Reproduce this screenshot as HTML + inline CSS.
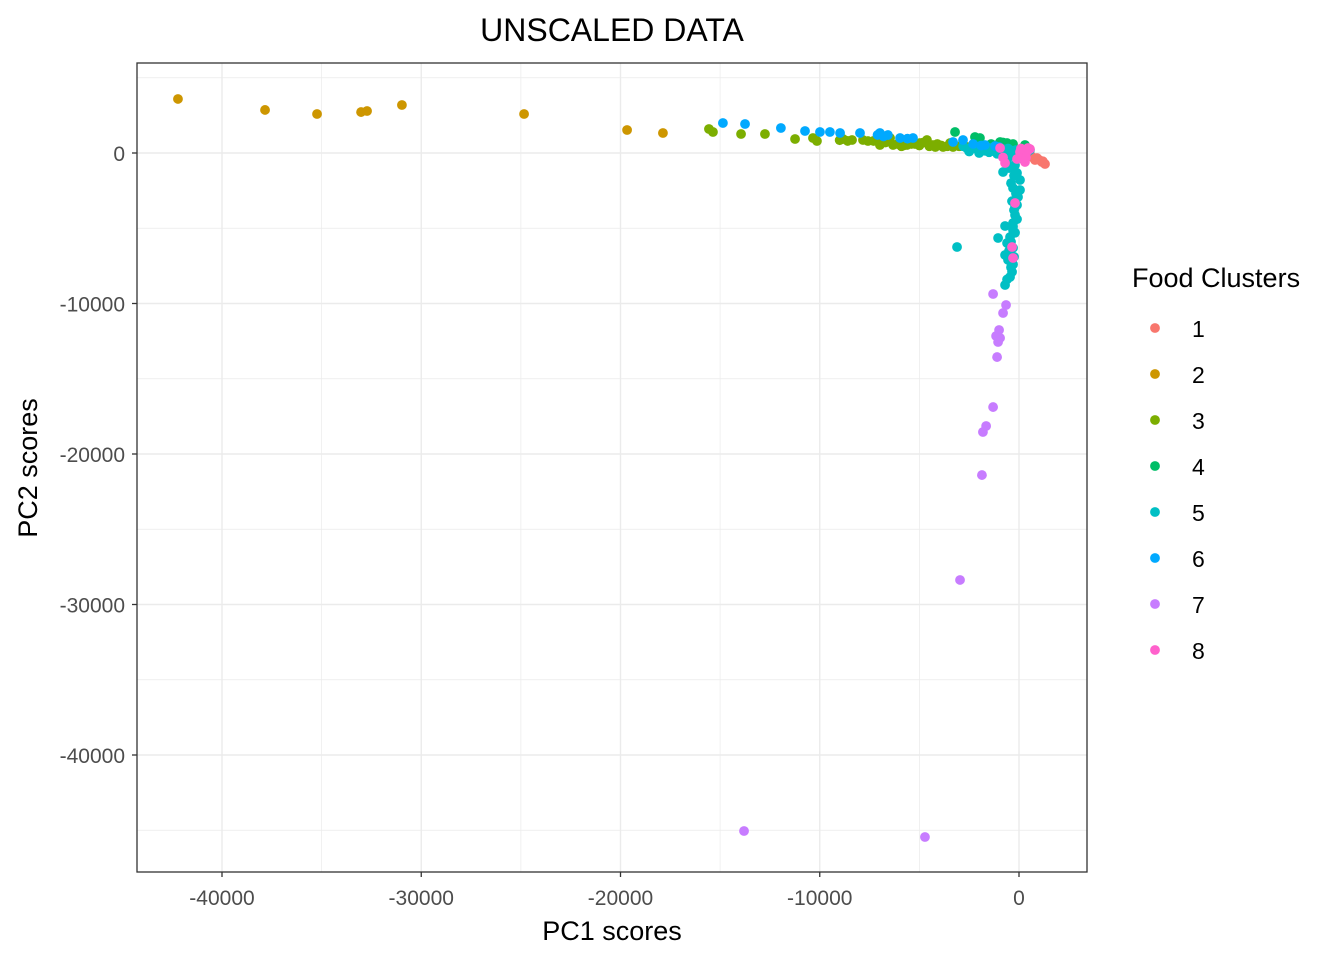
<!DOCTYPE html>
<html><head><meta charset="utf-8"><style>
body{margin:0;background:#fff;font-family:"Liberation Sans",Arial,sans-serif}
</style></head><body>
<svg id="chart" width="1344" height="960" xmlns="http://www.w3.org/2000/svg" font-family="Liberation Sans, Arial, sans-serif"></svg>
<script>
const clusterNames=["1","2","3","4","5","6","7","8"];
const clusterColors=["#F8766D","#CD9600","#7CAE00","#00BE67","#00BFC4","#00A9FF","#C77CFF","#FF61CC"];
const xTicks=[-40000,-30000,-20000,-10000,0];
const yTicks=[0,-10000,-20000,-30000,-40000];
const c1x=[552,903,1154,1305,803,351,700,1000,1200,600];
const c1y=[-133,-332,-598,-731,-465,66,-300,-450,-550,-200];
const c2x=[-42210,-37840,-35230,-33020,-32720,-30970,-24840,-19670,-17870];
const c2y=[3590,2860,2590,2720,2790,3190,2590,1530,1330];
const c3x=[-15560,-15360,-13950,-12750,-11240,-10340,-10140,-8830,-8380,-7830,-7580,-6980,-6980,-6470,-6320,-5620,-4970,-4620,-4320,-3810,-3310,-2810,-5970,-5220,-3460,-7300,-6700,-6100,-5800,-5400,-5000,-4800,-4500,-4100,-3900,-3600,-3000,-2600,-2300,-8600,-9000,-4200,-5900];
const c3y=[1595,1396,1263,1263,930,997,797,930,864,864,797,997,532,997,532,532,665,864,532,399,399,532,731,598,665,800,700,600,500,600,500,700,450,600,500,450,450,400,350,800,850,400,450];
const c4x=[-3210,-2210,-950,-600,-300,-1960,300,-2000,-1400,-800,-1200,-400];
const c4y=[1395,1063,731,665,598,997,532,900,600,700,500,400];
const c5x=[-1960,-1460,-1100,-600,-800,-100,50,-300,-50,-200,-200,-300,-700,-300,-1050,-450,-600,-700,-350,-450,-700,-3110,250,-450,50,550,-2460,-200,50,-100,-1600,-900,-300,
-2800,-2600,-2300,-2100,-1800,-1700,-1500,-1300,-1200,-1000,-850,-750,-650,-550,-400,-250,-150,0,150,300,400,
-2500,-2000,-1500,-1100,-900,-600,-300,-100,200,
-500,-250,-400,-150,-350,-250,-100,-300,-200,-400,-300,-500,-250,-550,-400,-350,-600,-300,-500,-450];
const c5y=[399,332,200,-465,-1263,-1329,-1794,-2326,-2924,-3588,-4120,-4652,-4851,-5117,-5648,-5582,-5981,-6778,-7243,-8240,-8771,-6246,-266,200,0,200,266,-797,-2459,-3455,200,100,-1000,
450,300,400,250,350,150,300,250,100,300,150,250,100,300,150,100,200,100,0,-100,50,
100,0,50,-50,0,-100,-200,-300,-400,
-1000,-1500,-2000,-2700,-3200,-3800,-4400,-4900,-5300,-5900,-6300,-6500,-6900,-7100,-7600,-7900,-8400,-7400,-7000,-6100];
const c6x=[-14860,-13750,-11950,-10740,-9990,-9490,-8980,-7980,-6980,-6580,-5970,-5320,-3310,-2810,-1200,-1710,-7100,-6800,-5600,-2300,-1900,-1000];
const c6y=[1994,1927,1661,1462,1395,1395,1329,1329,1329,1196,997,997,731,864,465,532,1200,1100,950,600,500,400];
const c7x=[-1300,-650,-800,-1000,-1150,-950,-1050,-1100,-1300,-1650,-1810,-1860,-2960,-13800,-4720];
const c7y=[-9370,-10100,-10630,-11760,-12160,-12290,-12560,-13560,-16880,-18140,-18540,-21400,-28370,-45050,-45450];
const c8x=[50,300,-700,-200,-350,-300,550,450,-950,200,400,-100,-800,100,350];
const c8y=[66,-598,-665,-3323,-6246,-6977,266,332,332,-200,100,-400,-300,300,-300];
const seriesX=[c1x,c2x,c3x,c4x,c5x,c6x,c7x,c8x];
const seriesY=[c1y,c2y,c3y,c4y,c5y,c6y,c7y,c8y];

const NS="http://www.w3.org/2000/svg";
const svg=document.getElementById('chart');
const L=137,R=1087,T=63,B=872;
const sx=v=>1019+v*0.019925;
const sy=v=>153-v*0.01505;
function mk(tag,attrs,parent){const e=document.createElementNS(NS,tag);for(const k in attrs)e.setAttribute(k,attrs[k]);(parent||svg).appendChild(e);return e;}
const grid=mk('g',{});


for(let v=-45000;v<=0;v+=5000){const x=sx(v);if(x<L||x>R)continue;const ln=mk('line',{x1:x,x2:x,y1:T,y2:B,stroke:'#ebebeb','stroke-width':(v%10000===0)?1.4:0.7},grid);

}
for(let v=5000;v>=-45000;v-=5000){const y=sy(v);if(y<T||y>B)continue;const ln=mk('line',{x1:L,x2:R,y1:y,y2:y,stroke:'#ebebeb','stroke-width':(v%10000===0)?1.4:0.7},grid);

}
const pts=mk('g',{});


seriesX.forEach((xs,i)=>{xs.forEach((xv,j)=>{const yv=seriesY[i][j];if(yv===undefined)return;const c=mk('circle',{cx:sx(xv),cy:sy(yv),r:4.9,fill:clusterColors[i]},pts);

});});
const frame=mk('rect',{x:L,y:T,width:R-L,height:B-T,fill:'none',stroke:'#333','stroke-width':1.3});


xTicks.forEach(v=>{const x=sx(v);mk('line',{x1:x,x2:x,y1:B,y2:B+5,stroke:'#333','stroke-width':1.3});
const t=mk('text',{x:x,y:B+33,'text-anchor':'middle','font-size':21,fill:'#4d4d4d'});t.textContent=v;

});
yTicks.forEach(v=>{const y=sy(v);mk('line',{x1:L-5,x2:L,y1:y,y2:y,stroke:'#333','stroke-width':1.3});
const t=mk('text',{x:L-12,y:y+8,'text-anchor':'end','font-size':21,fill:'#4d4d4d'});t.textContent=v;

});
let t=mk('text',{x:612,y:41,'text-anchor':'middle','font-size':32,fill:'#000'});t.textContent='UNSCALED DATA';


t=mk('text',{x:612,y:940,'text-anchor':'middle','font-size':27,fill:'#000'});t.textContent='PC1 scores';


t=mk('text',{x:37,y:468,'text-anchor':'middle','font-size':27,fill:'#000',transform:'rotate(-90 37 468)'});t.textContent='PC2 scores';


const lg=mk('g',{});


t=mk('text',{x:1132,y:287,'font-size':27,fill:'#000'},lg);t.textContent='Food Clusters';


clusterNames.forEach((n,i)=>{const y=328+46*i;const g=mk('g',{},lg);


mk('circle',{cx:1155,cy:y,r:4.9,fill:clusterColors[i]},g);
const tt=mk('text',{x:1192,y:y+9,'font-size':23,fill:'#000'},g);tt.textContent=n;});
</script>
</body></html>
